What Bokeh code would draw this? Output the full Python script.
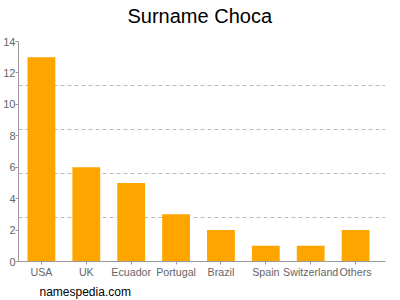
import numpy as np
from bokeh.plotting import figure
from bokeh.models import Range1d, FixedTicker, Title, LinearAxis
from bokeh.embed import file_html
from bokeh.resources import INLINE

countries = ["USA", "UK", "Ecuador", "Portugal", "Brazil", "Spain", "Switzerland", "Others"]
counts = [13, 6, 5, 3, 2, 1, 1, 2]
y_ticks = [0, 2, 4, 6, 8, 10, 12, 14]
grid_ticks = [2.8, 5.6, 8.4, 11.2, 14]
title_text = "Surname Choca"
footer_text = "namespedia.com"

FONT = "Liberation Sans"
xs = np.arange(len(countries)) + 0.5

p = figure(width=400, height=300, output_backend="svg", toolbar_location=None,
           x_range=Range1d(-0.011, 8.167), y_range=Range1d(0, 14),
           min_border_left=17, min_border_right=15, min_border_top=41, min_border_bottom=39)
p.outline_line_color = None
p.background_fill_color = "white"
p.border_fill_color = "white"

p.vbar(x=xs, top=counts, width=0.62, fill_color="#FFA500", line_color=None)

p.xgrid.grid_line_color = None
p.ygrid.ticker = FixedTicker(ticks=grid_ticks)
p.ygrid.grid_line_color = "#bbbbbb"
p.ygrid.grid_line_dash = "4 3"

ya = p.yaxis[0]
ya.ticker = FixedTicker(ticks=y_ticks)
ya.axis_line_color = "#999999"
ya.major_tick_line_color = "#999999"
ya.major_tick_out = 3
ya.major_tick_in = 0
ya.minor_tick_line_color = None
ya.minor_tick_out = 0
ya.minor_tick_in = 0
ya.major_label_standoff = 0
ya.major_label_text_font = FONT
ya.major_label_text_font_size = "11px"
ya.major_label_text_color = "#666666"

xa = p.xaxis[0]
xa.ticker = FixedTicker(ticks=list(xs))
xa.major_label_overrides = {float(x): c for x, c in zip(xs, countries)}
xa.axis_line_color = "#999999"
xa.major_tick_line_color = "#999999"
xa.major_tick_out = 3
xa.major_tick_in = 0
xa.minor_tick_line_color = None
xa.minor_tick_out = 0
xa.minor_tick_in = 0
xa.major_label_standoff = 1
xa.major_label_text_font = FONT
xa.major_label_text_font_size = "10.7px"
xa.major_label_text_color = "#666666"


def spacer(size):
    # an invisible axis whose only role is to reserve `size` pixels of border
    return LinearAxis(ticker=FixedTicker(ticks=[1]), axis_line_color=None,
                      major_tick_line_color=None, minor_tick_line_color=None,
                      major_tick_out=size, major_tick_in=0, minor_tick_out=0,
                      minor_tick_in=0, major_label_standoff=0,
                      major_label_text_font_size="0px", major_label_text_alpha=0)


p.add_layout(spacer(13), "above")
p.add_layout(spacer(4), "below")

p.title.text = title_text
p.title.text_font = FONT
p.title.text_font_size = "20px"
p.title.text_font_style = "normal"
p.title.text_color = "#000000"
p.title.align = "left"
p.title.offset = 109
p.title.vertical_align = "top"
p.title.standoff = 0

p.add_layout(Title(text=footer_text, align="left", offset=21, vertical_align="top",
                   standoff=0, text_font=FONT, text_font_size="12px",
                   text_font_style="normal", text_color="#000000"), "below")

open("out.html", "w").write(file_html(p, INLINE))
